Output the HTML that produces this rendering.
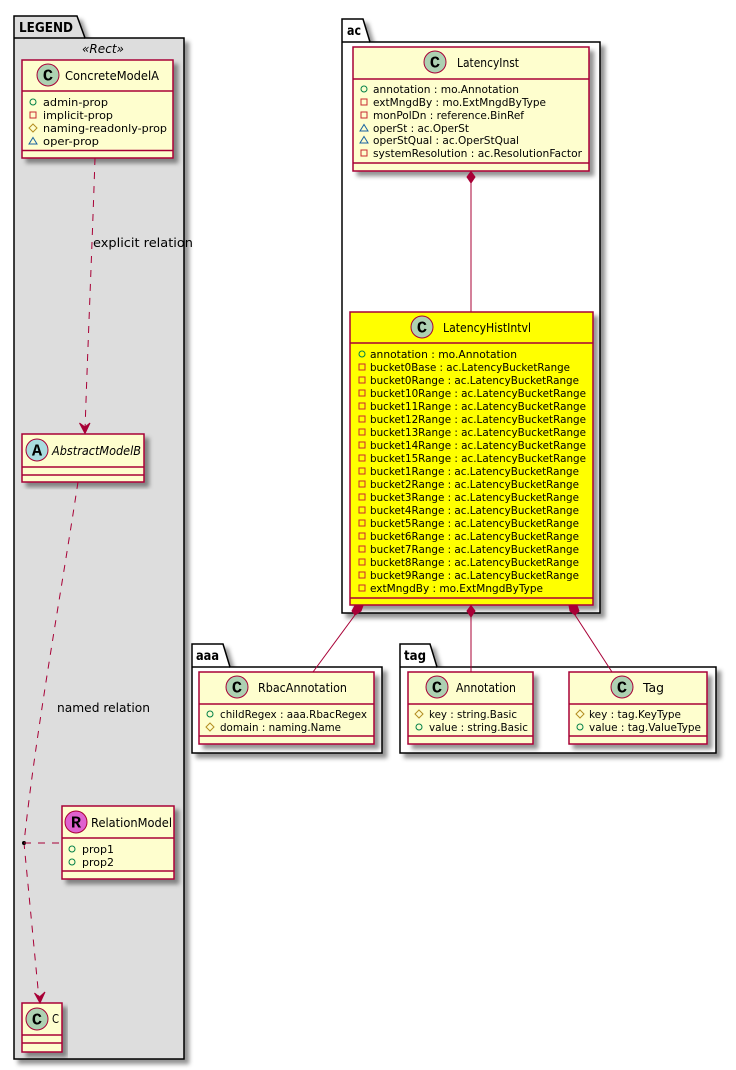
<!DOCTYPE html>
<html><head><meta charset="utf-8"><title>Diagram</title>
<style>
html,body{margin:0;padding:0;background:#fff}
svg{display:block}
text{font-family:"DejaVu Sans","Liberation Sans",sans-serif;font-size:11px;fill:#000}
.t{font-size:12.5px}
.p{font-family:"DejaVu Sans","Liberation Sans",sans-serif;font-size:13.5px;font-weight:bold}
.l{font-family:"Liberation Mono",monospace;font-size:17px;font-weight:bold;text-anchor:middle}
.b{fill:#FEFECE;stroke:#A80036;stroke-width:1.5}
.y{fill:#FFFF00;stroke:#A80036;stroke-width:1.5}
.s{stroke:#A80036;stroke-width:1.5;fill:none}
.e{stroke:#A80036;stroke-width:1;fill:none}
.d{stroke:#A80036;stroke-width:1;fill:none;stroke-dasharray:7 7}
.c{stroke:#A80036;stroke-width:1;fill:#ADD1B2}
.k{fill:#fff;stroke:#000;stroke-width:1.5}
</style></head>
<body>
<svg width="736" height="1070" viewBox="0 0 736 1070" xmlns="http://www.w3.org/2000/svg">
<defs>
<filter id="sh" x="-10%" y="-10%" width="125%" height="125%"><feDropShadow dx="4.500" dy="4.500" stdDeviation="2.200" flood-color="#000" flood-opacity="0.42"/></filter>
<g id="o"><circle r="3" fill="none" stroke="#038048" stroke-width="1"/></g>
<g id="q"><rect x="-3" y="-3" width="6" height="6" fill="none" stroke="#C82930" stroke-width="1"/></g>
<g id="h"><path d="M0-4L4 0L0 4L-4 0Z" fill="none" stroke="#B38D22" stroke-width="1"/></g>
<g id="r"><path d="M0-3.500L4 3L-4 3Z" fill="none" stroke="#1963A0" stroke-width="1"/></g>
</defs>

<!-- packages -->
<g filter="url(#sh)"><path class="k" style="fill:#DDDDDD" d="M14 38V16H77L85 38H184V1059H14Z"/></g>
<path d="M14 38H85" stroke="#000" stroke-width="1.5"/>
<text class="p" x="19" y="32" textLength="54" lengthAdjust="spacingAndGlyphs">LEGEND</text>
<text class="t" x="82" y="53" textLength="42" lengthAdjust="spacingAndGlyphs" style="font-style:italic">«Rect»</text>

<g filter="url(#sh)"><path class="k" d="M342 42V19H363L370 42H600V613H342Z"/></g>
<path d="M342 42H370" stroke="#000" stroke-width="1.5"/>
<text class="p" x="347" y="35" textLength="14" lengthAdjust="spacingAndGlyphs">ac</text>

<g filter="url(#sh)"><path class="k" d="M192 667V644H223L230 667H382V753H192Z"/></g>
<path d="M192 667H230" stroke="#000" stroke-width="1.5"/>
<text class="p" x="196" y="660" textLength="23" lengthAdjust="spacingAndGlyphs">aaa</text>

<g filter="url(#sh)"><path class="k" d="M400 667V644H430L437 667H716V753H400Z"/></g>
<path d="M400 667H437" stroke="#000" stroke-width="1.5"/>
<text class="p" x="404" y="660" textLength="22" lengthAdjust="spacingAndGlyphs">tag</text>

<!-- ConcreteModelA -->
<g filter="url(#sh)"><rect class="b" x="22" y="60" width="151" height="98"/></g>
<path class="s" d="M22 91H173M22 150.500H173"/>
<circle class="c" cx="48" cy="75" r="11"/><text class="l" x="48" y="80.500">C</text>
<text class="t" x="65" y="80" textLength="94" lengthAdjust="spacingAndGlyphs">ConcreteModelA</text>
<use href="#o" x="33" y="102"/><text x="43" y="106" textLength="65" lengthAdjust="spacingAndGlyphs">admin-prop</text>
<use href="#q" x="33" y="115"/><text x="43" y="119" textLength="70" lengthAdjust="spacingAndGlyphs">implicit-prop</text>
<use href="#h" x="33" y="128"/><text x="43" y="132" textLength="124" lengthAdjust="spacingAndGlyphs">naming-readonly-prop</text>
<use href="#r" x="33" y="141"/><text x="43" y="145" textLength="56" lengthAdjust="spacingAndGlyphs">oper-prop</text>

<!-- AbstractModelB -->
<g filter="url(#sh)"><rect class="b" x="22" y="434" width="122" height="48"/></g>
<path class="s" d="M22 467H144M22 475H144"/>
<circle class="c" style="fill:#A9DCDF" cx="37" cy="450" r="11"/><text class="l" x="37" y="455.500">A</text>
<text class="t" x="52" y="455" textLength="89" lengthAdjust="spacingAndGlyphs" style="font-style:italic">AbstractModelB</text>

<!-- RelationModel -->
<g filter="url(#sh)"><rect class="b" x="62" y="806" width="112" height="73"/></g>
<path class="s" d="M62 838H174M62 871H174"/>
<circle class="c" style="fill:#DF62CF" cx="76" cy="822" r="11"/><text class="l" x="76" y="827.500">R</text>
<text class="t" x="91" y="827" textLength="81" lengthAdjust="spacingAndGlyphs">RelationModel</text>
<use href="#o" x="72" y="849"/><text x="82" y="853" textLength="32" lengthAdjust="spacingAndGlyphs">prop1</text>
<use href="#o" x="72" y="862"/><text x="82" y="866" textLength="32" lengthAdjust="spacingAndGlyphs">prop2</text>

<!-- C -->
<g filter="url(#sh)"><rect class="b" x="22" y="1003" width="40" height="49"/></g>
<path class="s" d="M22 1035H62M22 1043H62"/>
<circle class="c" cx="37" cy="1019" r="11"/><text class="l" x="37" y="1024.500">C</text>
<text class="t" x="52" y="1023" textLength="7" lengthAdjust="spacingAndGlyphs">C</text>

<!-- LatencyInst -->
<g filter="url(#sh)"><rect class="b" x="353" y="47" width="236" height="124"/></g>
<path class="s" d="M353 79H589M353 163H589"/>
<circle class="c" cx="435" cy="62" r="11"/><text class="l" x="435" y="67.500">C</text>
<text class="t" x="457" y="67" textLength="62" lengthAdjust="spacingAndGlyphs">LatencyInst</text>
<use href="#o" x="364" y="89"/><text x="373" y="93" textLength="146" lengthAdjust="spacingAndGlyphs">annotation : mo.Annotation</text>
<use href="#q" x="364" y="102"/><text x="373" y="106" textLength="173" lengthAdjust="spacingAndGlyphs">extMngdBy : mo.ExtMngdByType</text>
<use href="#q" x="364" y="115"/><text x="373" y="119" textLength="151" lengthAdjust="spacingAndGlyphs">monPolDn : reference.BinRef</text>
<use href="#r" x="364" y="128"/><text x="373" y="132" textLength="96" lengthAdjust="spacingAndGlyphs">operSt : ac.OperSt</text>
<use href="#r" x="364" y="140"/><text x="373" y="144" textLength="146" lengthAdjust="spacingAndGlyphs">operStQual : ac.OperStQual</text>
<use href="#q" x="364" y="153"/><text x="373" y="157" textLength="209" lengthAdjust="spacingAndGlyphs">systemResolution : ac.ResolutionFactor</text>

<!-- LatencyHistIntvl -->
<g filter="url(#sh)"><rect class="y" x="350" y="312" width="243" height="293"/></g>
<path class="s" d="M350 343H593M350 598H593"/>
<circle class="c" cx="422" cy="327" r="11"/><text class="l" x="422" y="332.500">C</text>
<text class="t" x="443" y="332" textLength="88" lengthAdjust="spacingAndGlyphs">LatencyHistIntvl</text>
<use href="#o" x="362" y="354"/><text x="370" y="358" textLength="147" lengthAdjust="spacingAndGlyphs">annotation : mo.Annotation</text>
<use href="#q" x="362" y="367"/><text x="370" y="371" textLength="200" lengthAdjust="spacingAndGlyphs">bucket0Base : ac.LatencyBucketRange</text>
<use href="#q" x="362" y="380"/><text x="370" y="384" textLength="209" lengthAdjust="spacingAndGlyphs">bucket0Range : ac.LatencyBucketRange</text>
<use href="#q" x="362" y="393"/><text x="370" y="397" textLength="216" lengthAdjust="spacingAndGlyphs">bucket10Range : ac.LatencyBucketRange</text>
<use href="#q" x="362" y="406"/><text x="370" y="410" textLength="216" lengthAdjust="spacingAndGlyphs">bucket11Range : ac.LatencyBucketRange</text>
<use href="#q" x="362" y="419"/><text x="370" y="423" textLength="216" lengthAdjust="spacingAndGlyphs">bucket12Range : ac.LatencyBucketRange</text>
<use href="#q" x="362" y="432"/><text x="370" y="436" textLength="216" lengthAdjust="spacingAndGlyphs">bucket13Range : ac.LatencyBucketRange</text>
<use href="#q" x="362" y="445"/><text x="370" y="449" textLength="216" lengthAdjust="spacingAndGlyphs">bucket14Range : ac.LatencyBucketRange</text>
<use href="#q" x="362" y="458"/><text x="370" y="462" textLength="216" lengthAdjust="spacingAndGlyphs">bucket15Range : ac.LatencyBucketRange</text>
<use href="#q" x="362" y="471"/><text x="370" y="475" textLength="209" lengthAdjust="spacingAndGlyphs">bucket1Range : ac.LatencyBucketRange</text>
<use href="#q" x="362" y="484"/><text x="370" y="488" textLength="209" lengthAdjust="spacingAndGlyphs">bucket2Range : ac.LatencyBucketRange</text>
<use href="#q" x="362" y="497"/><text x="370" y="501" textLength="209" lengthAdjust="spacingAndGlyphs">bucket3Range : ac.LatencyBucketRange</text>
<use href="#q" x="362" y="510"/><text x="370" y="514" textLength="209" lengthAdjust="spacingAndGlyphs">bucket4Range : ac.LatencyBucketRange</text>
<use href="#q" x="362" y="523"/><text x="370" y="527" textLength="209" lengthAdjust="spacingAndGlyphs">bucket5Range : ac.LatencyBucketRange</text>
<use href="#q" x="362" y="536"/><text x="370" y="540" textLength="209" lengthAdjust="spacingAndGlyphs">bucket6Range : ac.LatencyBucketRange</text>
<use href="#q" x="362" y="549"/><text x="370" y="553" textLength="209" lengthAdjust="spacingAndGlyphs">bucket7Range : ac.LatencyBucketRange</text>
<use href="#q" x="362" y="562"/><text x="370" y="566" textLength="209" lengthAdjust="spacingAndGlyphs">bucket8Range : ac.LatencyBucketRange</text>
<use href="#q" x="362" y="575"/><text x="370" y="579" textLength="209" lengthAdjust="spacingAndGlyphs">bucket9Range : ac.LatencyBucketRange</text>
<use href="#q" x="362" y="588"/><text x="370" y="592" textLength="173" lengthAdjust="spacingAndGlyphs">extMngdBy : mo.ExtMngdByType</text>

<!-- RbacAnnotation -->
<g filter="url(#sh)"><rect class="b" x="199" y="672" width="175" height="72"/></g>
<path class="s" d="M199 704H374M199 736H374"/>
<circle class="c" cx="237" cy="687" r="11"/><text class="l" x="237" y="692.500">C</text>
<text class="t" x="258" y="692" textLength="89" lengthAdjust="spacingAndGlyphs">RbacAnnotation</text>
<use href="#o" x="210" y="714"/><text x="220" y="718" textLength="147" lengthAdjust="spacingAndGlyphs">childRegex : aaa.RbacRegex</text>
<use href="#h" x="210" y="727"/><text x="220" y="731" textLength="121" lengthAdjust="spacingAndGlyphs">domain : naming.Name</text>

<!-- Annotation -->
<g filter="url(#sh)"><rect class="b" x="408" y="672" width="125" height="72"/></g>
<path class="s" d="M408 704H533M408 736H533"/>
<circle class="c" cx="437" cy="687" r="11"/><text class="l" x="437" y="692.500">C</text>
<text class="t" x="456" y="692" textLength="60" lengthAdjust="spacingAndGlyphs">Annotation</text>
<use href="#h" x="419" y="714"/><text x="429" y="718" textLength="88" lengthAdjust="spacingAndGlyphs">key : string.Basic</text>
<use href="#o" x="419" y="727"/><text x="429" y="731" textLength="99" lengthAdjust="spacingAndGlyphs">value : string.Basic</text>

<!-- Tag -->
<g filter="url(#sh)"><rect class="b" x="569" y="672" width="138" height="72"/></g>
<path class="s" d="M569 704H707M569 736H707"/>
<circle class="c" cx="622" cy="687" r="11"/><text class="l" x="622" y="692.500">C</text>
<text class="t" x="643" y="692" textLength="21" lengthAdjust="spacingAndGlyphs">Tag</text>
<use href="#h" x="580" y="714"/><text x="589" y="718" textLength="92" lengthAdjust="spacingAndGlyphs">key : tag.KeyType</text>
<use href="#o" x="580" y="727"/><text x="589" y="731" textLength="112" lengthAdjust="spacingAndGlyphs">value : tag.ValueType</text>

<!-- connectors -->
<path class="e" d="M471 183V312"/>
<path d="M471 171.500L475 177L471 183L467 177Z" fill="#A80036" stroke="#A80036"/>
<path class="e" d="M471 617V672"/>
<path d="M471 605.500L475 611L471 617L467 611Z" fill="#A80036" stroke="#A80036"/>
<path class="e" d="M355 615L313 672"/>
<path d="M355 605.500H363L361 611L355 615L352 611Z" fill="#A80036" stroke="#A80036"/>
<path class="e" d="M575 615L612 672"/>
<path d="M569 605.500H577L579 611L575 615L570 611Z" fill="#A80036" stroke="#A80036"/>

<path class="d" d="M95 158C92 250 88 340 85 430"/>
<path d="M85 433.500L79.500 423L85 427L90 423Z" fill="#A80036" stroke="#A80036"/>
<text x="93" y="247" textLength="100" lengthAdjust="spacingAndGlyphs" class="t">explicit relation</text>

<path class="d" d="M78 482C60 600 36 730 24 843L39 999"/>
<path d="M40 1003L34.500 993L39.500 997L45 992Z" fill="#A80036" stroke="#A80036"/>
<circle cx="24" cy="843" r="2" fill="#000"/>
<path class="d" d="M24 843H62"/>
<text x="57" y="712" textLength="93" lengthAdjust="spacingAndGlyphs" class="t">named relation</text>
</svg>
</body></html>
